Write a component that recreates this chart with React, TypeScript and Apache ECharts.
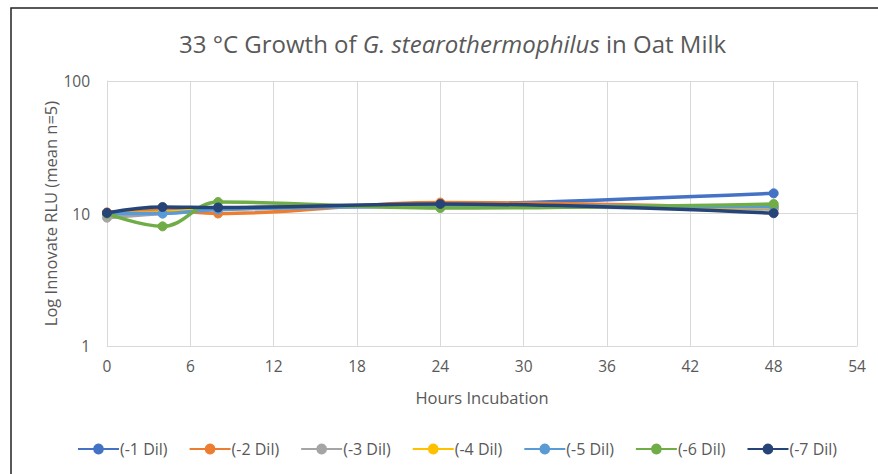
import React, { useEffect, useRef } from "react";
import * as echarts from "echarts";

const hours = [0, 4, 8, 24, 48];
const seriesNames = ["(-1 Dil)", "(-2 Dil)", "(-3 Dil)", "(-4 Dil)", "(-5 Dil)", "(-6 Dil)", "(-7 Dil)"];
const dil1 = [10.1, 10.6, 11.0, 11.6, 14.2];
const dil2 = [10.2, 10.5, 10.0, 12.1, 10.9];
const dil3 = [9.3, 10.0, 10.8, 11.3, 10.8];
const dil4 = [10.0, 10.2, 10.8, 11.5, 11.2];
const dil5 = [10.0, 10.0, 10.7, 11.4, 11.3];
const dil6 = [10.0, 8.0, 12.2, 11.0, 11.8];
const dil7 = [10.1, 11.2, 11.1, 11.8, 10.05];
const colors = ["#4472C4", "#ED7D31", "#A5A5A5", "#FFC000", "#5B9BD5", "#70AD47", "#264478"];
const xTicks = [0, 6, 12, 18, 24, 30, 36, 42, 48, 54];
const yTicks = [1, 10, 100];

const FONT = "'Open Sans', 'Noto Sans', sans-serif";
const TXT = "#595959";

export default function App() {
  const ref = useRef<HTMLDivElement>(null);
  useEffect(() => {
    if (!ref.current) return;
    const chart = echarts.init(ref.current, null, { renderer: "svg" });
    const all = [dil1, dil2, dil3, dil4, dil5, dil6, dil7];
    chart.setOption({
      animation: false,
      textStyle: { fontFamily: FONT },
      title: {
        text: "{n|33 °C Growth of }{i|G. stearothermophilus}{n| in Oat Milk}",
        left: 174,
        top: 26,
        textStyle: {
          fontWeight: "normal",
          rich: {
            n: { fontSize: 24, color: TXT, fontFamily: FONT, fontWeight: "normal" },
            i: { fontSize: 24, color: TXT, fontFamily: FONT, fontStyle: "italic", fontWeight: "normal" },
          },
        },
      },
      graphic: [
        {
          type: "rect",
          shape: { x: 11, y: 8, width: 900, height: 500 },
          style: { fill: "none", stroke: "#222", lineWidth: 1.5 },
          silent: true,
        },
      ],
      legend: {
        data: seriesNames,
        left: 72,
        top: 436,
        itemWidth: 41,
        itemHeight: 11,
        itemGap: 21,
        textStyle: { color: TXT, fontSize: 16, fontFamily: FONT, padding: [0, 0, 0, -4] },
      },
      grid: { left: 107, right: 21, top: 81, bottom: 128 },
      xAxis: {
        type: "value",
        min: 0,
        max: 54,
        interval: 6,
        name: "Hours Incubation",
        nameLocation: "middle",
        nameGap: 43,
        nameTextStyle: { color: TXT, fontSize: 16.5, fontFamily: FONT },
        axisLine: { show: true, lineStyle: { color: "#d9d9d9" } },
        axisTick: { show: false },
        axisLabel: {
          color: TXT,
          fontSize: 15.5,
          margin: 12,
          fontFamily: FONT,
          formatter: (v: number) => (xTicks.includes(v) ? String(v) : ""),
        },
        splitLine: { show: true, lineStyle: { color: "#d9d9d9" } },
      },
      yAxis: {
        type: "log",
        logBase: 10,
        min: 1,
        max: 100,
        name: "Log Innovate RLU (mean n=5)",
        nameLocation: "middle",
        nameGap: 48,
        nameMoveOverlap: false,
        nameTextStyle: { color: TXT, fontSize: 16.5, fontFamily: FONT },
        axisLine: { show: true, lineStyle: { color: "#d9d9d9" } },
        axisTick: { show: false },
        axisLabel: {
          color: TXT,
          fontSize: 15.5,
          margin: 17,
          fontFamily: FONT,
          formatter: (v: number) => (yTicks.includes(Math.round(v)) ? String(Math.round(v)) : ""),
        },
        splitLine: { show: true, lineStyle: { color: "#d9d9d9" } },
      },
      series: seriesNames.map((name, i) => ({
        name,
        type: "line",
        smooth: 0.4,
        data: hours.map((h, k) => [h, all[i][k]]),
        symbol: "circle",
        symbolSize: 9,
        showSymbol: true,
        lineStyle: { color: colors[i], width: 3.5 },
        itemStyle: { color: colors[i], borderColor: colors[i], borderWidth: 1 },
        z: 2 + i,
      })),
    });
    return () => chart.dispose();
  }, []);
  return (
    <div
      ref={ref}
      style={{ position: "fixed", left: 0, top: 0, width: 878, height: 474, background: "#fff" }}
    />
  );
}
